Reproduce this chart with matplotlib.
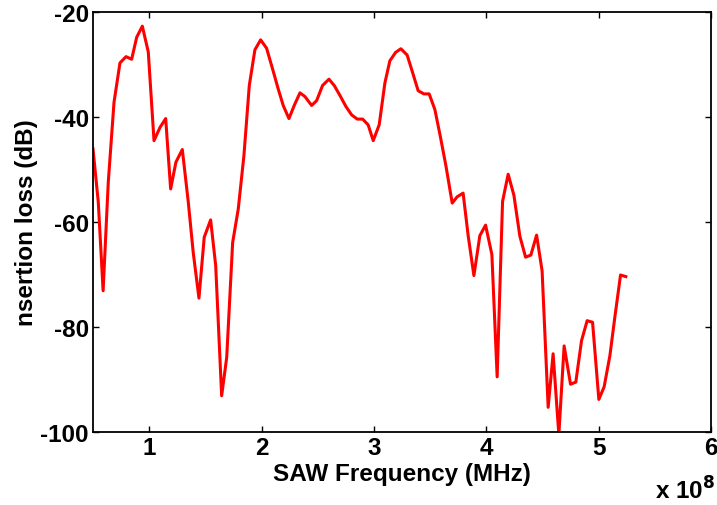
import matplotlib
matplotlib.use("Agg")
import matplotlib.pyplot as plt

# frequency in units of 1e8 Hz, insertion loss in dB
freq = [0.500, 0.547, 0.590, 0.636, 0.687, 0.740, 0.794, 0.844, 0.889, 0.939,
        0.992, 1.043, 1.096, 1.147, 1.191, 1.238, 1.295, 1.348, 1.392, 1.443,
        1.490, 1.547, 1.592, 1.645, 1.690, 1.743, 1.793, 1.843, 1.891, 1.941,
        1.992, 2.045, 2.099, 2.149, 2.193, 2.244, 2.291, 2.342, 2.386, 2.446,
        2.490, 2.543, 2.600, 2.647, 2.698, 2.751, 2.802, 2.852, 2.900, 2.949,
        2.994, 3.047, 3.098, 3.142, 3.193, 3.240, 3.296, 3.344, 3.394, 3.445,
        3.492, 3.543, 3.593, 3.641, 3.697, 3.741, 3.794, 3.839, 3.890, 3.943,
        3.994, 4.050, 4.097, 4.145, 4.195, 4.246, 4.299, 4.350, 4.397, 4.448,
        4.497, 4.551, 4.595, 4.646, 4.693, 4.750, 4.797, 4.848, 4.898, 4.946,
        5.002, 5.049, 5.100, 5.144, 5.195, 5.242]
loss = [-46.1, -56.2, -73.1, -52.4, -37.2, -29.7, -28.5, -29.0, -24.8, -22.7,
        -27.6, -44.5, -42.0, -40.3, -53.7, -48.6, -46.2, -56.2, -65.8, -74.5,
        -62.9, -59.6, -68.3, -93.1, -85.8, -63.9, -57.5, -47.4, -34.0, -27.2,
        -25.3, -26.9, -30.9, -34.7, -37.8, -40.3, -37.8, -35.4, -36.1, -37.8,
        -36.9, -34.0, -32.8, -34.0, -35.9, -38.0, -39.6, -40.4, -40.4, -41.5,
        -44.5, -41.5, -33.5, -29.3, -27.7, -27.0, -28.2, -31.5, -35.0, -35.6,
        -35.6, -38.6, -43.9, -49.3, -56.4, -55.2, -54.5, -62.6, -70.2, -62.6,
        -60.6, -66.2, -89.5, -56.1, -50.9, -54.9, -62.7, -66.7, -66.3, -62.5,
        -69.3, -95.3, -85.1, -100.5, -83.6, -90.9, -90.5, -82.6, -78.8, -79.1,
        -93.8, -91.4, -85.5, -78.2, -70.1, -70.4]

xticks = [1, 2, 3, 4, 5, 6]
yticks = [-100, -80, -60, -40, -20]

plt.rcParams["font.family"] = "Liberation Sans"
plt.rcParams["font.weight"] = "bold"
fs = 17.5

fig = plt.figure(figsize=(7.17, 5.06), dpi=100)
ax = fig.add_axes([0.1297, 0.1443, 0.8619, 0.8300])
ax.plot(freq, loss, color="red", linewidth=2.2)

ax.set_xlim(0.5, 6)
ax.set_ylim(-100, -20)
ax.set_xticks(xticks)
ax.set_xticklabels([str(t) for t in xticks])
ax.set_yticks(yticks)
ax.set_yticklabels([str(t) for t in yticks])
ax.tick_params(direction="in", top=True, right=True, length=4, width=1,
               labelsize=fs, pad=3)
for lab in ax.get_xticklabels() + ax.get_yticklabels():
    lab.set_fontweight("bold")
for s in ax.spines.values():
    s.set_linewidth(1.3)

ax.set_xlabel("SAW Frequency (MHz)", fontsize=fs, fontweight="bold", labelpad=2)
ax.set_ylabel("nsertion loss (dB)", fontsize=fs, fontweight="bold", labelpad=1.5)
fig.text(0.913, 0.013, "x 10$^{\\mathbf{8}}$", fontsize=fs, fontweight="bold",
         va="baseline")

fig.savefig("out.png", dpi=100)
